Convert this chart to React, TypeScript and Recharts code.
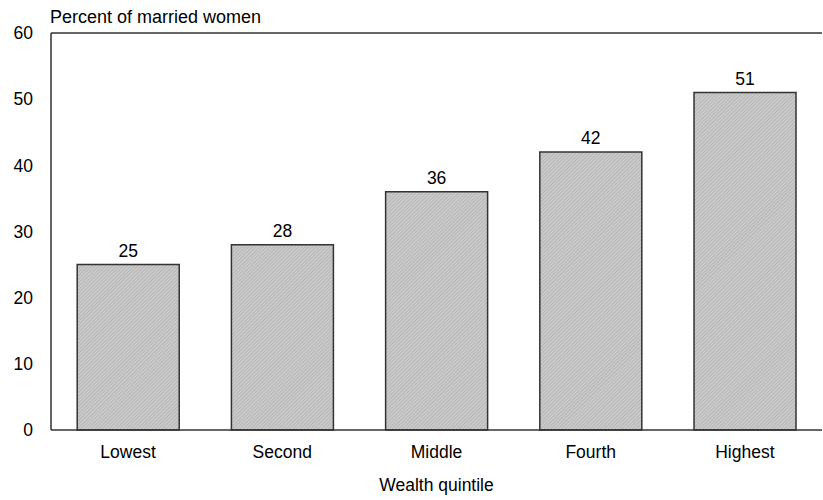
import { BarChart, Bar, XAxis, YAxis, LabelList, ReferenceLine } from "recharts"

// wealth quintiles and share of married women (%)
const quintiles = ["Lowest", "Second", "Middle", "Fourth", "Highest"]
const percents = [25, 28, 36, 42, 51]
const yTicks = [0, 10, 20, 30, 40, 50, 60]

const data = quintiles.map((q, i) => ({ name: q, value: percents[i] }))

const FONT = "Liberation Sans, Arial, sans-serif"
const AXIS = "#333333"
const FS = 17.5

export default function App() {
  return (
    <div style={{ position: "absolute", left: 0, top: 0, fontFamily: FONT }}>
      <BarChart
        width={823}
        height={500}
        data={data}
        margin={{ top: 33, right: 1, bottom: 0, left: 0 }}
        barCategoryGap="17%"
      >
        <defs>
          {/* fine diagonal hatch like the original print */}
          <pattern id="hatch" width="2.5" height="2.5" patternUnits="userSpaceOnUse" patternTransform="rotate(45)">
            <rect width="2.5" height="2.5" fill="#cdcdcd" />
            <line x1="0.5" y1="0" x2="0.5" y2="2.5" stroke="#b0b0b0" strokeWidth="0.9" />
          </pattern>
        </defs>
        <XAxis
          dataKey="name"
          height={70}
          tickLine={false}
          tickSize={0}
          tickMargin={16}
          axisLine={{ stroke: AXIS, strokeWidth: 1.5 }}
          tick={{ fill: "#000", fontSize: FS, fontFamily: FONT }}
          label={{ value: "Wealth quintile", position: "insideBottom", offset: 9, fill: "#000", fontSize: FS, fontFamily: FONT }}
        />
        <YAxis
          width={51}
          domain={[0, 60]}
          ticks={yTicks}
          interval={0}
          tickLine={false}
          tickSize={0}
          tickMargin={18}
          axisLine={{ stroke: AXIS, strokeWidth: 1.5 }}
          tick={{ fill: "#000", fontSize: FS, fontFamily: FONT }}
          label={{
            content: () => (
              <text x={50} y={23} fill="#000" fontSize={18} fontFamily={FONT}>
                Percent of married women
              </text>
            ),
          }}
        />
        <ReferenceLine y={60} stroke={AXIS} strokeWidth={1.5} />
        <Bar dataKey="value" fill="url(#hatch)" stroke={AXIS} strokeWidth={1.5} isAnimationActive={false}>
          <LabelList dataKey="value" position="top" offset={8} fill="#000" fontSize={FS} fontFamily={FONT} />
        </Bar>
      </BarChart>
    </div>
  )
}
